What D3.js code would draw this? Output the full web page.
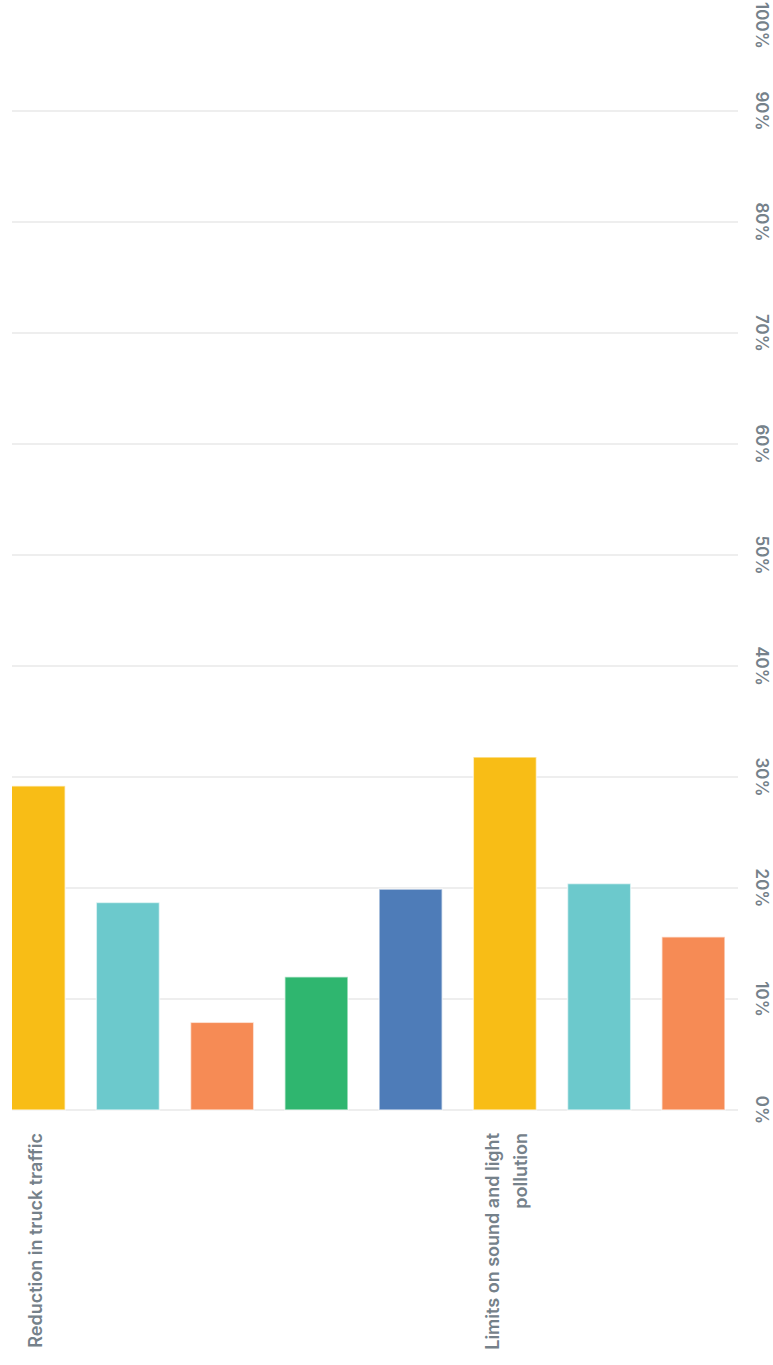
<!DOCTYPE html>
<html>
<head>
<meta charset="utf-8">
<script src="https://cdn.jsdelivr.net/npm/d3@7"></script>
<style>
  html, body { margin: 0; padding: 0; background: #fff; }
  svg { display: block; }
  text { font-family: Inter, "Open Sans", sans-serif; font-weight: 600; fill: #75818a; }
</style>
</head>
<body>
<div id="chart-area"></div>
<script>
// data
const groupLabels = ["Reduction in truck traffic", "Limits on sound and light pollution"];
const groupValues = [
  [29.2, 18.7, 7.9, 12.0, 19.9],
  [31.8, 20.4, 15.6]
];
const seriesColors = ["#F8BD16", "#6CC9CC", "#F68B55", "#2FB66F", "#4E7CB8"];
const tickValues = [0, 10, 20, 30, 40, 50, 60, 70, 80, 90, 100];

const W = 773, H = 1365;
const baseY = 1110;
const gridLeft = 12, gridRight = 738;

const bars = [];
groupValues.forEach((vals, gi) => {
  vals.forEach((v, si) => {
    bars.push({ id: gi + "-" + si, value: v, color: seriesColors[si], label: si === 0 ? groupLabels[gi] : null });
  });
});

const svg = d3.select("#chart-area")
  .append("svg")
  .attr("width", W)
  .attr("height", H);

const x = d3.scaleBand()
  .domain(bars.map(d => d.id))
  .range([-13.5, 740.5])
  .paddingInner(0.33)
  .paddingOuter(0.165);

const y = d3.scaleLinear().domain([0, 100]).range([baseY, 0]);

svg.append("defs").append("clipPath")
  .attr("id", "plot-clip")
  .append("rect")
  .attr("x", gridLeft)
  .attr("y", 0)
  .attr("width", gridRight - gridLeft)
  .attr("height", baseY + 2);

// gridlines
svg.append("g")
  .selectAll("line")
  .data(tickValues.filter(t => t < 100))
  .join("line")
  .attr("x1", gridLeft)
  .attr("x2", gridRight)
  .attr("y1", d => y(d))
  .attr("y2", d => y(d))
  .attr("stroke", "#e8e8e8")
  .attr("stroke-width", 1.5);

// bars
svg.append("g")
  .attr("clip-path", "url(#plot-clip)")
  .selectAll("rect")
  .data(bars)
  .join("rect")
  .attr("x", d => x(d.id))
  .attr("y", d => y(d.value))
  .attr("width", x.bandwidth())
  .attr("height", d => y(0) - y(d.value))
  .attr("fill", d => d.color)
  .attr("stroke", "#fff")
  .attr("stroke-opacity", 0.6)
  .attr("stroke-width", 1.5);

// value axis labels, rotated clockwise
const tickLabels = svg.append("g")
  .selectAll("text")
  .data(tickValues)
  .join("text")
  .attr("text-anchor", "middle")
  .attr("dy", "0.35em")
  .attr("font-size", "17px")
  .text(d => d + "%");

tickLabels.each(function(d) {
  const half = this.getComputedTextLength() / 2 + 2;
  const ty = Math.max(y(d), half);
  d3.select(this).attr("transform", `translate(762,${ty}) rotate(90)`);
});

// category labels, rotated counter-clockwise, wrapped
function wrapWords(text, maxWidth, measure) {
  const words = text.split(" ");
  const lines = [];
  let line = [];
  words.forEach(w => {
    const test = line.concat(w).join(" ");
    if (line.length && measure(test) > maxWidth) {
      lines.push(line.join(" "));
      line = [w];
    } else {
      line.push(w);
    }
  });
  if (line.length) lines.push(line.join(" "));
  return lines;
}

const measureText = svg.append("text").attr("font-size", "18px").attr("opacity", 0);
const measure = s => { measureText.text(s); return measureText.node().getComputedTextLength(); };

const lineGap = 28;
bars.filter(d => d.label).forEach(d => {
  const cx = x(d.id) + x.bandwidth() / 2 + 2;
  const lines = wrapWords(d.label, 250, measure);
  const t = svg.append("text")
    .attr("transform", `translate(${cx},1133) rotate(-90)`)
    .attr("text-anchor", "end")
    .attr("font-size", "18px");
  lines.forEach((ln, i) => {
    t.append("tspan")
      .attr("x", 0)
      .attr("y", (i - (lines.length - 1) / 2) * lineGap)
      .attr("dy", "0.35em")
      .text(ln);
  });
});
measureText.remove();
</script>
</body>
</html>
